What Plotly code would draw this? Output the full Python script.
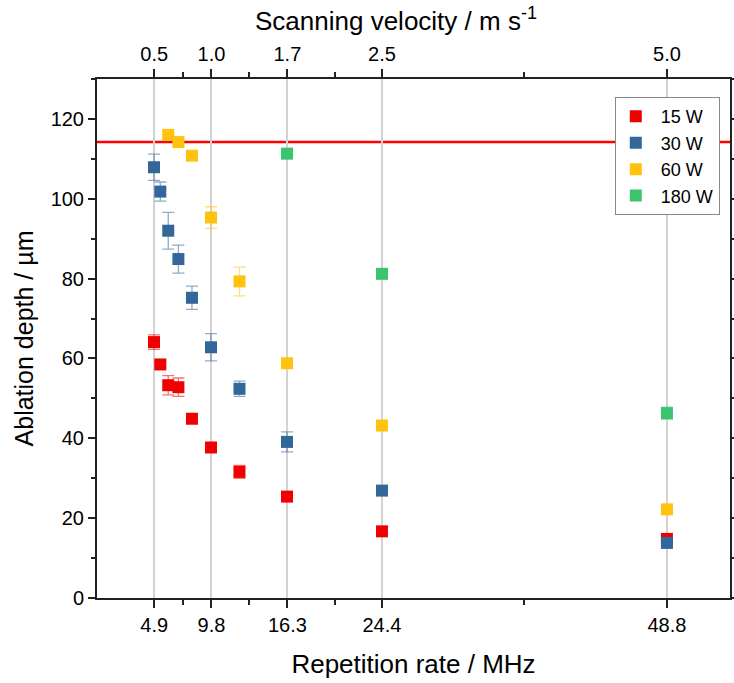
import plotly.graph_objects as go

# Repetition rates (MHz)
x_15 = [4.88, 5.42, 6.10, 6.97, 8.13, 9.76, 12.20, 16.27, 24.40, 48.80]
y_15 = [64.1, 58.5, 53.3, 52.8, 44.9, 37.7, 31.6, 25.4, 16.7, 14.8]
e_15 = [1.8, 0.8, 2.4, 2.3, 0.6, 0.8, 1.6, 0.6, 0.6, 0.5]

x_30 = [4.88, 5.42, 6.10, 6.97, 8.13, 9.76, 12.20, 16.27, 24.40, 48.80]
y_30 = [107.9, 101.8, 92.0, 84.9, 75.2, 62.8, 52.4, 39.1, 26.9, 13.8]
e_30 = [3.3, 2.4, 4.6, 3.5, 2.9, 3.4, 1.9, 2.5, 0.8, 0.8]

x_60 = [6.10, 6.97, 8.13, 9.76, 12.20, 16.27, 24.40, 48.80]
y_60 = [116.0, 114.2, 110.8, 95.3, 79.3, 58.8, 43.2, 22.2]
e_60 = [0.8, 0.8, 0.8, 2.7, 3.6, 0.8, 0.6, 0.6]

x_180 = [16.27, 24.40, 48.80]
y_180 = [111.3, 81.2, 46.3]
e_180 = [0.8, 0.8, 1.5]

threshold = 114.2

rep_ticks = [4.9, 9.8, 16.3, 24.4, 48.8]
rep_labels = ["4.9", "9.8", "16.3", "24.4", "48.8"]
vel_labels = ["0.5", "1.0", "1.7", "2.5", "5.0"]
minor_x = [7.35, 13.05, 20.35, 36.6]

series = [
    ("15 W", x_15, y_15, e_15, "#F00000", "rgba(240,0,0,0.55)"),
    ("30 W", x_30, y_30, e_30, "#336699", "rgba(51,102,153,0.55)"),
    ("60 W", x_60, y_60, e_60, "#FFC20E", "rgba(255,194,14,0.55)"),
    ("180 W", x_180, y_180, e_180, "#3CC36E", "rgba(60,195,110,0.55)"),
]

FONT = "Liberation Sans, Arial, sans-serif"
fig = go.Figure()

for name, xs, ys, es, col, ecol in series:
    fig.add_trace(go.Scatter(
        x=xs, y=ys, mode="markers", name="\u00a0" + name,
        marker=dict(symbol="square", size=12, color=col, line=dict(width=0)),
        error_y=dict(type="data", array=es, visible=True, color=ecol,
                     thickness=1.3, width=6),
    ))

# invisible trace for top axis
fig.add_trace(go.Scatter(x=[rep_ticks[0]], y=[None], xaxis="x2", showlegend=False,
                         mode="markers", hoverinfo="skip"))

fig.add_hline(y=threshold, line=dict(color="#FF0000", width=2.5), layer="below")

fig.add_annotation(
    text="Scanning velocity / m s<sup>-1</sup>", xref="paper", yref="paper",
    x=0.472, y=1.114, xanchor="center", yanchor="middle", showarrow=False,
    font=dict(size=26),
)

xr = [0, 54.2]
TICKF = dict(size=20)
fig.update_layout(
    width=734, height=683,
    margin=dict(l=97, r=4, t=79, b=85),
    paper_bgcolor="white", plot_bgcolor="white",
    font=dict(family=FONT, size=20, color="black"),
    xaxis=dict(
        range=xr, tickvals=rep_ticks, ticktext=rep_labels, automargin=False,
        showgrid=True, gridcolor="#d3d3d3", gridwidth=1.5,
        showline=True, linecolor="#222", linewidth=2,
        ticks="outside", ticklen=8, tickwidth=1.5, tickcolor="#222",
        tickfont=TICKF,
        minor=dict(tickvals=minor_x, ticks="outside", ticklen=5, tickwidth=1.5,
                   tickcolor="#222", showgrid=False),
        title=dict(text="Repetition rate / MHz", font=dict(size=26), standoff=20),
        zeroline=False,
    ),
    xaxis2=dict(
        overlaying="x", side="top", range=xr, tickvals=rep_ticks, ticktext=vel_labels,
        automargin=False,
        showgrid=False, showline=True, linecolor="#222", linewidth=2,
        ticks="outside", ticklen=8, tickwidth=1.5, tickcolor="#222",
        tickfont=TICKF,
        minor=dict(tickvals=minor_x, ticks="outside", ticklen=5, tickwidth=1.5,
                   tickcolor="#222", showgrid=False),
        zeroline=False,
    ),
    yaxis=dict(
        range=[0, 130], tickvals=[0, 20, 40, 60, 80, 100, 120], automargin=False,
        showgrid=False, showline=True, linecolor="#222", linewidth=2,
        ticks="outside", ticklen=7, tickwidth=1.5, tickcolor="#222", mirror="ticks",
        tickfont=TICKF,
        minor=dict(tickvals=[10, 30, 50, 70, 90, 110, 130], ticks="outside", ticklen=4,
                   tickwidth=1.5, tickcolor="#222"),
        title=dict(text="Ablation depth / µm", font=dict(size=25), standoff=10),
        zeroline=False,
    ),
    legend=dict(
        x=0.818, y=0.965, xanchor="left", yanchor="top",
        bordercolor="#888", borderwidth=1, bgcolor="white",
        font=dict(size=18), itemwidth=30,
    ),
    showlegend=True,
)

fig.write_html("out.html")
